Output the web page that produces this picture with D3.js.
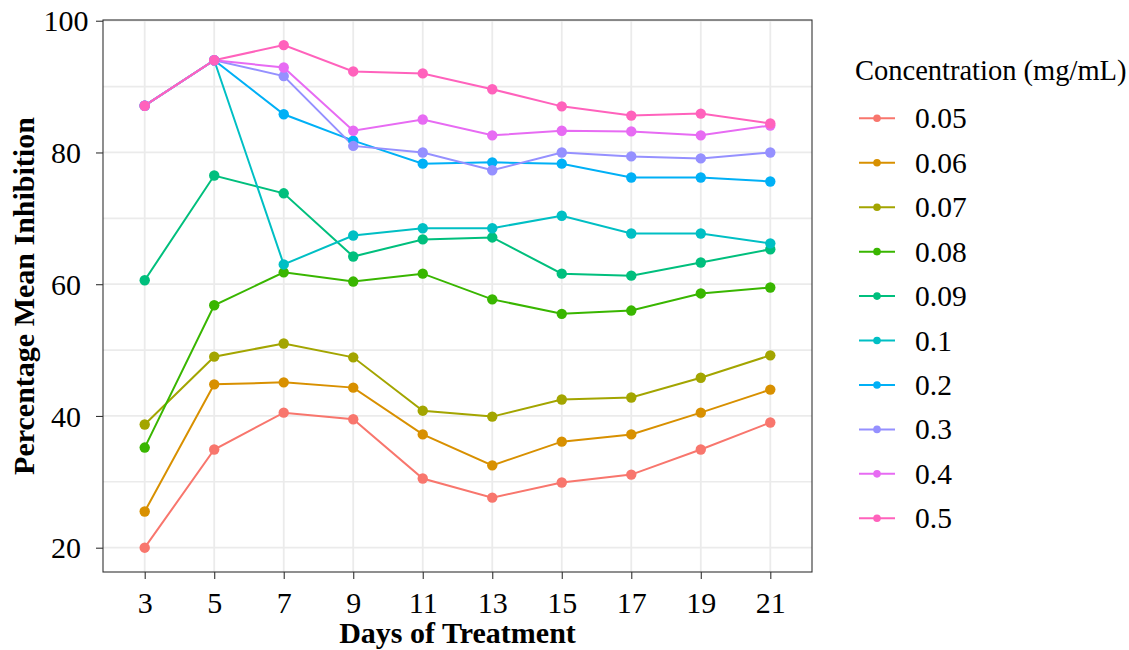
<!DOCTYPE html>
<html>
<head>
<meta charset="utf-8">
<script src="https://cdn.jsdelivr.net/npm/d3@7"></script>
<style>
  html, body { margin: 0; padding: 0; background: #ffffff; }
  svg { display: block; font-family: "Liberation Serif", "DejaVu Serif", serif; }
</style>
</head>
<body>
<div id="chart"></div>
<script>
"use strict";

// Days of treatment (x categories)
const days = [3, 5, 7, 9, 11, 13, 15, 17, 19, 21];

// Concentration levels (legend order)
const concentrations = ["0.05", "0.06", "0.07", "0.08", "0.09", "0.1", "0.2", "0.3", "0.4", "0.5"];

// Percentage mean inhibition per concentration, one value per day
const conc005 = [20.0, 34.9, 40.5, 39.5, 30.5, 27.6, 29.9, 31.1, 34.9, 39.0];
const conc006 = [25.5, 44.8, 45.1, 44.3, 37.2, 32.5, 36.1, 37.2, 40.5, 44.0];
const conc007 = [38.7, 49.0, 51.0, 48.9, 40.8, 39.9, 42.5, 42.8, 45.8, 49.2];
const conc008 = [35.2, 56.8, 61.8, 60.4, 61.6, 57.7, 55.5, 56.0, 58.6, 59.5];
const conc009 = [60.6, 76.5, 73.8, 64.2, 66.8, 67.1, 61.6, 61.3, 63.3, 65.3];
const conc01 = [87.1, 94.0, 63.0, 67.4, 68.5, 68.5, 70.4, 67.7, 67.7, 66.2];
const conc02 = [87.1, 94.0, 85.8, 81.8, 78.3, 78.5, 78.3, 76.2, 76.2, 75.6];
const conc03 = [87.1, 94.0, 91.6, 81.0, 80.0, 77.3, 80.0, 79.4, 79.1, 80.0];
const conc04 = [87.1, 94.0, 92.9, 83.3, 85.0, 82.6, 83.3, 83.2, 82.6, 84.1];
const conc05 = [87.1, 94.0, 96.3, 92.3, 92.0, 89.6, 87.0, 85.6, 85.9, 84.4];

const seriesValues = [conc005, conc006, conc007, conc008, conc009, conc01, conc02, conc03, conc04, conc05];

// y axis ticks
const yMajorTicks = [20, 40, 60, 80, 100];
const yMinorTicks = [30, 50, 70, 90];

const colors = ["#F8766D", "#D89000", "#A3A500", "#39B600", "#00BF7D",
                "#00BFC4", "#00B0F6", "#9590FF", "#E76BF3", "#FF62BC"];

const width = 1129;
const height = 650;
const panel = { left: 103, right: 812, top: 20, bottom: 572 };

const series = concentrations.map((c, i) => ({
  key: c,
  color: colors[i],
  points: days.map((d, j) => ({ day: d, value: seriesValues[i][j] })),
}));

const svg = d3.select("#chart")
  .append("svg")
  .attr("width", width)
  .attr("height", height);

// discrete x: 0.6 category padding on each side
const x = d3.scaleLinear().domain([1.8, 22.2]).range([panel.left, panel.right]);
const y = d3.scaleLinear().domain([16.31, 100.11]).range([panel.bottom, panel.top]);

// panel background + grid
svg.append("rect")
  .attr("x", panel.left)
  .attr("y", panel.top)
  .attr("width", panel.right - panel.left)
  .attr("height", panel.bottom - panel.top)
  .attr("fill", "#ffffff");

const grid = svg.append("g").attr("class", "grid");
grid.selectAll(".minor-y")
  .data(yMinorTicks)
  .join("line")
  .attr("x1", panel.left)
  .attr("x2", panel.right)
  .attr("y1", (d) => y(d))
  .attr("y2", (d) => y(d))
  .attr("stroke", "#EBEBEB")
  .attr("stroke-width", 1.6);
grid.selectAll(".major-y")
  .data(yMajorTicks)
  .join("line")
  .attr("x1", panel.left)
  .attr("x2", panel.right)
  .attr("y1", (d) => y(d))
  .attr("y2", (d) => y(d))
  .attr("stroke", "#EBEBEB")
  .attr("stroke-width", 1.8);
grid.selectAll(".major-x")
  .data(days)
  .join("line")
  .attr("x1", (d) => x(d))
  .attr("x2", (d) => x(d))
  .attr("y1", panel.top)
  .attr("y2", panel.bottom)
  .attr("stroke", "#EBEBEB")
  .attr("stroke-width", 1.8);

// lines first, then points (geom_line + geom_point)
const lineGen = d3.line()
  .x((d) => x(d.day))
  .y((d) => y(d.value));

svg.append("g")
  .selectAll("path")
  .data(series)
  .join("path")
  .attr("fill", "none")
  .attr("stroke", (d) => d.color)
  .attr("stroke-width", 2)
  .attr("d", (d) => lineGen(d.points));

svg.append("g")
  .selectAll("g")
  .data(series)
  .join("g")
  .attr("fill", (d) => d.color)
  .selectAll("circle")
  .data((d) => d.points)
  .join("circle")
  .attr("cx", (d) => x(d.day))
  .attr("cy", (d) => y(d.value))
  .attr("r", 5.2);

// panel border
svg.append("rect")
  .attr("x", panel.left)
  .attr("y", panel.top)
  .attr("width", panel.right - panel.left)
  .attr("height", panel.bottom - panel.top)
  .attr("fill", "none")
  .attr("stroke", "#333333")
  .attr("stroke-width", 1.1);

// axes
const xAxis = svg.append("g")
  .attr("transform", `translate(0,${panel.bottom})`)
  .call(d3.axisBottom(x).tickValues(days).tickSize(7).tickPadding(0).tickFormat(d3.format("d")));
xAxis.select(".domain").remove();
xAxis.selectAll(".tick line").attr("stroke", "#333333").attr("stroke-width", 1.1);
xAxis.selectAll(".tick text")
  .attr("y", 41)
  .attr("dy", null)
  .attr("fill", "#000000")
  .style("font-family", "'Liberation Serif', serif")
  .style("font-size", "30px");

const yAxis = svg.append("g")
  .attr("transform", `translate(${panel.left},0)`)
  .call(d3.axisLeft(y).tickValues(yMajorTicks).tickSize(7).tickFormat(d3.format("d")));
yAxis.select(".domain").remove();
yAxis.selectAll(".tick line").attr("stroke", "#333333").attr("stroke-width", 1.1);
yAxis.selectAll(".tick text")
  .attr("x", 66 - panel.left)
  .attr("dy", "0.34em")
  .attr("text-anchor", "middle")
  .attr("fill", "#000000")
  .style("font-family", "'Liberation Serif', serif")
  .style("font-size", "30px");

// axis titles
svg.append("text")
  .attr("x", (panel.left + panel.right) / 2)
  .attr("y", 643)
  .attr("text-anchor", "middle")
  .style("font-size", "30px")
  .style("font-weight", "bold")
  .text("Days of Treatment");

svg.append("text")
  .attr("transform", `translate(34,${(panel.top + panel.bottom) / 2}) rotate(-90)`)
  .attr("text-anchor", "middle")
  .style("font-size", "30px")
  .style("font-weight", "bold")
  .text("Percentage Mean Inhibition");

// legend
const legend = svg.append("g").attr("class", "legend");
legend.append("text")
  .attr("x", 855)
  .attr("y", 80)
  .style("font-size", "28.5px")
  .text("Concentration (mg/mL)");

const legendRow = d3.scaleLinear().domain([0, concentrations.length - 1]).range([118.3, 518.3]);

const rows = legend.selectAll(".row")
  .data(series)
  .join("g")
  .attr("class", "row")
  .attr("transform", (d, i) => `translate(0,${legendRow(i)})`);

rows.append("line")
  .attr("x1", 859)
  .attr("x2", 895)
  .attr("stroke", (d) => d.color)
  .attr("stroke-width", 2);
rows.append("circle")
  .attr("cx", 877)
  .attr("r", 3.8)
  .attr("fill", (d) => d.color);
rows.append("text")
  .attr("x", 915)
  .attr("dy", "0.34em")
  .style("font-size", "29.5px")
  .text((d) => d.key);
</script>
</body>
</html>
